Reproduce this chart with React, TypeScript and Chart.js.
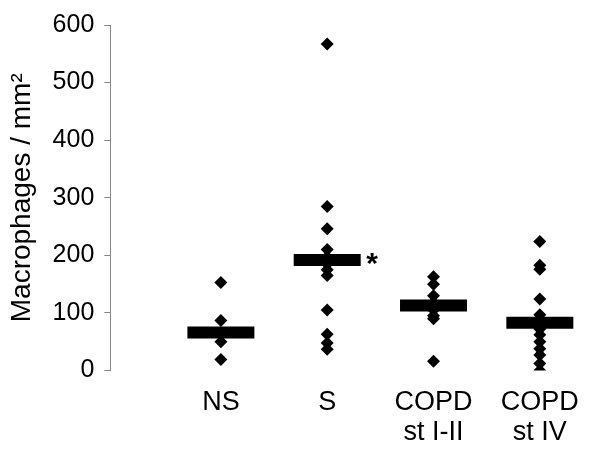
import React, { useEffect, useRef } from "react";
import { Chart, registerables } from "chart.js";

Chart.register(...registerables);

const categories: string[][] = [["NS"], ["S"], ["COPD", "st I-II"], ["COPD", "st IV"]];
const nsValues = [153, 87, 62, 50, 19];
const sValues = [567, 285, 246, 210, 197, 185, 175, 165, 105, 63, 48, 37];
const copd12Values = [163, 150, 130, 118, 105, 95, 90, 16];
const copd4Values = [224, 183, 176, 124, 97, 90, 80, 72, 62, 50, 38, 27, 12, 0];
const groupMeans = [66, 192, 113, 83];
const yTicks = [0, 100, 200, 300, 400, 500, 600];
const yTitle = "Macrophages / mm²";
const significance = "*";

const groups = [nsValues, sValues, copd12Values, copd4Values];
const FAMILY = "'Liberation Sans', Arial, sans-serif";

const asteriskPlugin = {
  id: "asterisk",
  afterDatasetsDraw(chart: any) {
    const { ctx, scales } = chart;
    const x = scales.x.getPixelForValue(2) + 45;
    const y = scales.y.getPixelForValue(groupMeans[1]);
    ctx.save();
    ctx.font = `bold 30px ${FAMILY}`;
    ctx.fillStyle = "#000";
    ctx.textAlign = "center";
    ctx.textBaseline = "middle";
    ctx.fillText(significance, x, y + 5);
    ctx.restore();
  },
};

export default function App() {
  const ref = useRef<HTMLCanvasElement>(null);
  useEffect(() => {
    if (!ref.current) return;
    const pointSets = groups.map((vals, i) => ({
      type: "scatter" as const,
      data: vals.map((v) => ({ x: i + 1, y: v })),
      pointStyle: "rectRot" as const,
      pointRadius: 6.5,
      backgroundColor: "#000",
      borderColor: "#000",
      borderWidth: 0,
      order: 1,
    }));
    const meanSet = {
      type: "scatter" as const,
      data: groupMeans.map((v, i) => ({ x: i + 1, y: v })),
      pointStyle: "line" as const,
      pointRadius: 33.5,
      borderColor: "#000",
      backgroundColor: "#000",
      borderWidth: 12,
      order: 0,
    };
    const chart = new Chart(ref.current, {
      type: "scatter",
      data: { datasets: [...pointSets, meanSet] as any },
      plugins: [asteriskPlugin],
      options: {
        animation: false,
        responsive: false,
        layout: { autoPadding: false, padding: { top: 23, right: 7, left: 0, bottom: -8 } },
        plugins: { legend: { display: false }, tooltip: { enabled: false } },
        scales: {
          x: {
            type: "linear",
            min: -0.04,
            max: 4.5,
            grid: { display: false, tickLength: 0 },
            border: { display: false },
            afterBuildTicks: (scale: any) => {
              scale.ticks = categories.map((_, i) => ({ value: i + 1 }));
            },
            ticks: {
              color: "#000",
              font: { family: FAMILY, size: 27, lineHeight: 1.12 },
              padding: 17,
              maxRotation: 0,
              autoSkip: false,
              callback: (v: any) => categories[Number(v) - 1] ?? "",
            },
          },
          y: {
            min: 0,
            max: 600,
            afterBuildTicks: (scale: any) => {
              scale.ticks = yTicks.map((v) => ({ value: v }));
            },
            grid: { drawOnChartArea: false, drawTicks: true, tickLength: 6, color: "#868686" },
            border: { display: true, color: "#868686", width: 1 },
            ticks: { color: "#000", font: { family: FAMILY, size: 25 }, padding: 10 },
            title: {
              display: true,
              text: yTitle,
              color: "#000",
              font: { family: FAMILY, size: 28 },
              padding: { top: 5, bottom: 4 },
            },
          },
        },
      },
    });
    return () => chart.destroy();
  }, []);
  return (
    <div style={{ position: "absolute", left: 0, top: 0, width: 600, height: 457, background: "#fff" }}>
      <canvas ref={ref} width={600} height={457} />
    </div>
  );
}
